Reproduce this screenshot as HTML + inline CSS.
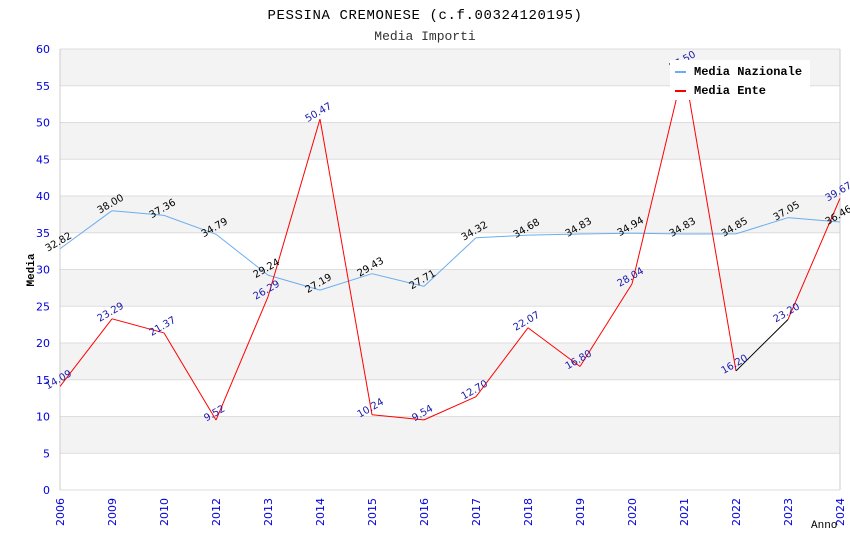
<!DOCTYPE html>
<html><head><meta charset="utf-8"><style>
body{margin:0;background:#fff}
svg{display:block}
</style></head><body>
<svg id="c" width="850" height="550" xmlns="http://www.w3.org/2000/svg">
<text x="425" y="19" text-anchor="middle" font-family="Liberation Mono, DejaVu Sans Mono, monospace" font-size="14" letter-spacing="0.6" fill="#000">PESSINA CREMONESE (c.f.00324120195)</text>
<text x="425" y="40" text-anchor="middle" font-family="Liberation Mono, DejaVu Sans Mono, monospace" font-size="13" fill="#333">Media Importi</text>
<g id="grid"></g>
<g id="axes"></g>
<g id="series"></g>
<g id="labels"></g>
<text x="34" y="270" transform="rotate(-90 34 270)" text-anchor="middle" font-family="Liberation Mono, monospace" font-size="11" font-weight="bold" fill="#000">Media</text>
<text x="811" y="528" font-family="Liberation Mono, monospace" font-size="11" fill="#000">Anno</text>
<g>
<rect x="670" y="60" width="140" height="40" fill="#fff"/>
<rect x="675" y="71" width="11" height="2" fill="#6aaeee"/>
<text x="694" y="75" font-family="Liberation Mono, monospace" font-size="12" font-weight="bold">Media Nazionale</text>
<rect x="675" y="90" width="11" height="2" fill="#ff0000"/>
<text x="694" y="94" font-family="Liberation Mono, monospace" font-size="12" font-weight="bold">Media Ente</text>
</g>
</svg>
<script>
const years=["2006","2009","2010","2012","2013","2014","2015","2016","2017","2018","2019","2020","2021","2022","2023","2024"];
const nazionale=[32.82,38.00,37.36,34.79,29.24,27.19,29.43,27.71,34.32,34.68,34.83,34.94,34.83,34.85,37.05,36.46];
const ente=[14.09,23.29,21.37,9.52,26.29,50.47,10.24,9.54,12.70,22.07,16.80,28.04,57.50,16.20,23.20,39.67];
const yTicks=[0,5,10,15,20,25,30,35,40,45,50,55,60];
const NS="http://www.w3.org/2000/svg";
const L=60,R=840,T=49,B=490,YMAX=60;
const xs=i=>L+i*(R-L)/(years.length-1);
const ys=v=>B-v*(B-T)/YMAX;
function mk(t,a,p){const e=document.createElementNS(NS,t);for(const k in a)e.setAttribute(k,a[k]);p.appendChild(e);return e;}
const grid=document.getElementById('grid'),axes=document.getElementById('axes'),ser=document.getElementById('series'),lab=document.getElementById('labels');
for(let i=0;i<yTicks.length-1;i++){
  if(i%2===1){const r=mk('rect',{x:L,y:ys(yTicks[i+1]),width:R-L,height:ys(yTicks[i])-ys(yTicks[i+1]),fill:'#f3f3f3'},grid);
  
  }
}
yTicks.forEach(v=>{
  const l=mk('line',{x1:L,x2:R,y1:ys(v),y2:ys(v),stroke:'#dddddd','stroke-width':1},grid);
  
  
  const t=mk('text',{x:L-10,y:ys(v)+4,'text-anchor':'end','font-family':'DejaVu Sans, sans-serif','font-size':11,fill:'#0000dd'},axes);
  t.textContent=v;
  
  
});
mk('line',{x1:L,x2:L,y1:T,y2:B,stroke:'#cccccc'},axes);
mk('line',{x1:R,x2:R,y1:T,y2:B,stroke:'#cccccc'},axes);
years.forEach((y,i)=>{
  const x=xs(i);
  const t=mk('text',{x:x+4,y:B+8,transform:`rotate(-90 ${x+4} ${B+8})`,'text-anchor':'end','font-family':'DejaVu Sans, sans-serif','font-size':11,fill:'#0000dd'},axes);
  t.textContent=y;
  
  
});
function line(vals,color,name){
  for(let i=0;i<vals.length-1;i++){
    const c=(name==='ente'&&i===13)?'#000':color;
    const s=mk('line',{x1:xs(i),y1:ys(vals[i]),x2:xs(i+1),y2:ys(vals[i+1]),stroke:c,'stroke-width':1},ser);
    
    
  }
}
line(nazionale,'#6aaeee','nazionale');
line(ente,'#ff0000','ente');
function labels(vals,color,name){
  vals.forEach((v,i)=>{
    const x=xs(i),y=ys(v)-4;
    const t=mk('text',{x:x,y:y,transform:`rotate(-30 ${x} ${y})`,'text-anchor':'middle','font-family':'DejaVu Sans, sans-serif','font-size':10,fill:color},lab);
    t.textContent=v.toFixed(2);
    
    
  });
}
labels(nazionale,'#000','nazionale');
labels(ente,'#1a1aaa','ente');
</script>
</body></html>
